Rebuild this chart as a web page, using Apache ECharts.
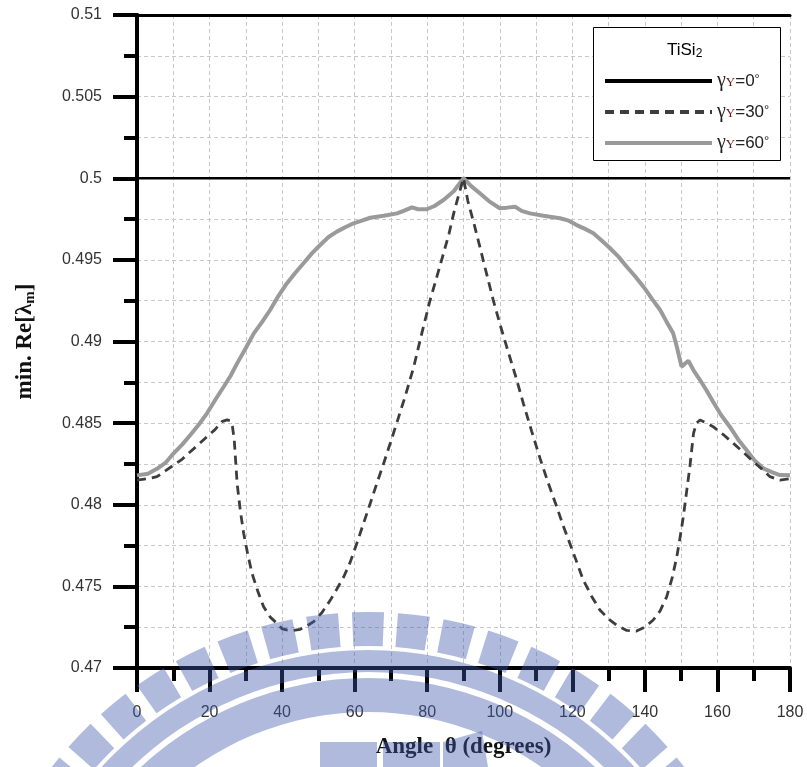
<!DOCTYPE html>
<html>
<head>
<meta charset="utf-8">
<script src="https://cdn.jsdelivr.net/npm/echarts@6/dist/echarts.min.js"></script>
<style>html,body{margin:0;padding:0;background:#fff}#c{width:807px;height:767px}</style>
</head>
<body>
<div id="c"></div>
<script>
// ---- data ----
const xTickLabels = ['0','20','40','60','80','100','120','140','160','180'];
const yTickLabels = ['0.47','0.475','0.48','0.485','0.49','0.495','0.5','0.505','0.51'];
const seriesNames = ['γY=0°','γY=30°','γY=60°'];

const g0X = [0, 180];
const g0Y = [0.5, 0.5];

const g30X = [0,3,5.5,8,10.1,12.5,14.7,17,19.3,21.5,23.4,24.8,25.7,26.3,26.8,27.6,28.5,29.4,30.5,31.7,33.3,34.9,36.8,38.6,40,41.3,43,45,47,48.7,51,53.3,55,57,58.8,60.6,62.5,64.3,66.1,68,70,71.7,74,76.3,78.5,80.8,82.7,84.5,86,87.3,88.7,90,91.2,92.8,94.5,96.3,98.2,100,101.9,104.2,106.5,108.8,111.1,113.4,115.7,117.5,119.3,121.2,123,125.3,127.6,130,132.2,135,137.7,140,142.3,144.2,146,147.5,148.8,149.7,150.6,151.5,152.4,153.4,154.2,155.2,157,158.8,161.6,164.4,167.2,169.9,172.2,174.5,177.2,180];
const g30Y = [0.48151,0.4816,0.48172,0.4821,0.48243,0.4828,0.48325,0.4837,0.48417,0.4846,0.48509,0.4852,0.48515,0.4848,0.4840,0.48131,0.4796,0.47825,0.4770,0.4758,0.4747,0.47375,0.4731,0.47273,0.4724,0.47233,0.4723,0.47237,0.4726,0.47284,0.4734,0.47416,0.4748,0.47559,0.4765,0.47764,0.4789,0.48009,0.4813,0.48254,0.4839,0.48508,0.4867,0.48846,0.4905,0.49254,0.4940,0.4954,0.4966,0.49785,0.4990,0.5000,0.4986,0.4973,0.49581,0.4942,0.49254,0.4911,0.48968,0.4880,0.48621,0.4845,0.48284,0.4813,0.47988,0.4787,0.47764,0.4765,0.47539,0.4744,0.47355,0.4730,0.47263,0.4723,0.47226,0.4725,0.47294,0.4735,0.47436,0.4755,0.47682,0.4780,0.47927,0.4808,0.48233,0.48437,0.4850,0.48519,0.4850,0.48478,0.4843,0.48376,0.4832,0.48264,0.4822,0.48172,0.48151,0.4816];

const g60X = [0,3,5.5,8,10.1,12.5,14.7,17,19.3,21.5,23.9,25.8,27.6,30,32.2,34.5,36.7,39,41.3,43.6,45.9,48.2,50.5,52.8,55.1,57.4,59.7,62,64.3,68,71.7,73.5,75.8,77.5,79.9,82,84.5,87.3,90,92.2,94.5,97,100,102,104.2,106,108.3,112,116.6,119,121.2,123.5,125.8,128,130.4,132.7,135,137.3,139.6,142,144.2,146,147.8,148.8,150.1,152,153.5,155.2,157,158.8,161,163.4,165.7,168,170.3,172.6,175,177.2,180];
const g60Y = [0.4818,0.4819,0.4822,0.4826,0.48315,0.4837,0.48427,0.4849,0.4856,0.4864,0.48723,0.4879,0.48866,0.4896,0.4905,0.4912,0.49193,0.4928,0.49356,0.4942,0.49479,0.4954,0.49591,0.4964,0.49673,0.4970,0.49724,0.4974,0.49758,0.4977,0.49785,0.4980,0.49822,0.4981,0.4981,0.4983,0.49867,0.4992,0.5000,0.4995,0.49908,0.4986,0.49816,0.4982,0.49826,0.4980,0.49785,0.4977,0.49755,0.4974,0.49713,0.4969,0.49663,0.4962,0.49571,0.4952,0.49458,0.4940,0.49336,0.4926,0.49193,0.4912,0.4905,0.48968,0.48846,0.48882,0.4882,0.48764,0.4870,0.48631,0.4855,0.48478,0.4840,0.48335,0.4827,0.48223,0.4820,0.48182,0.4818];

const zip = (xs, ys) => xs.map((x, i) => [x, ys[i]]);

// ---- watermark geometry ----
const wmColor = 'rgba(60,88,172,0.41)';
const wcx = 368, wcy = 1012;
const wm = [];
wm.push({type:'sector', z:100, silent:true, shape:{cx:wcx, cy:wcy, r0:300, r:334, startAngle:Math.PI, endAngle:2*Math.PI}, style:{fill:wmColor}});
wm.push({type:'sector', z:100, silent:true, shape:{cx:wcx, cy:wcy, r0:340, r:362, startAngle:Math.PI, endAngle:2*Math.PI}, style:{fill:wmColor}});
for (let k = -8; k <= 8; k++) {
  const c = -Math.PI/2 + k*6.6*Math.PI/180;
  const h = 2.3*Math.PI/180;
  wm.push({type:'sector', z:100, silent:true, shape:{cx:wcx, cy:wcy, r0:366, r:400, startAngle:c-h, endAngle:c+h}, style:{fill:wmColor}});
}
wm.push({type:'rect', z:100, silent:true, shape:{x:320, y:742, width:57, height:30}, style:{fill:wmColor}});
wm.push({type:'rect', z:100, silent:true, shape:{x:383, y:742, width:57, height:30}, style:{fill:wmColor}});
wm.push({type:'polygon', z:100, silent:true, shape:{points:[[443,742],[482,731],[488,767],[443,767]]}, style:{fill:wmColor}});

const labelRich = {
  g:{fontFamily:'Liberation Serif', fontSize:20, color:'#222', lineHeight:16},
  s:{fontFamily:'Liberation Serif', fontSize:13, color:'#6a1515', verticalAlign:'bottom', lineHeight:16, padding:[8,0,0,0]},
  n:{fontFamily:'Liberation Sans', fontSize:17, color:'#222', lineHeight:16},
  d:{fontFamily:'Liberation Sans', fontSize:13, color:'#222', verticalAlign:'top', lineHeight:16, padding:[0,0,8,0]}
};

const chart = echarts.init(document.getElementById('c'), null, {renderer:'canvas'});
chart.setOption({
  animation:false,
  backgroundColor:'#fff',
  grid:{left:137, right:17, top:15, bottom:99},
  xAxis:[{
    type:'value', min:0, max:180, interval:20,
    axisLine:{show:true, onZero:false, lineStyle:{color:'#000', width:4}},
    axisTick:{show:true, inside:false, length:24, lineStyle:{color:'#000', width:4}},
    minorTick:{show:true, splitNumber:2, length:13, lineStyle:{color:'#000', width:4}},
    axisLabel:{margin:37, fontFamily:'Liberation Sans', fontSize:16, color:'#333',
      formatter:(v)=>xTickLabels[Math.round(v/20)]},
    splitLine:{show:true, lineStyle:{color:'#c8c8c8', type:[4,3], width:1}},
    minorSplitLine:{show:true, lineStyle:{color:'#c8c8c8', type:[4,3], width:1}},
    name:'Angle  θ (degrees)', nameLocation:'middle', nameGap:68,
    nameTextStyle:{fontFamily:'Liberation Serif', fontWeight:'bold', fontSize:23, color:'#111'}
  },{
    type:'value', min:0, max:180, position:'top',
    axisLine:{show:true, lineStyle:{color:'#000', width:3}},
    axisTick:{show:false}, axisLabel:{show:false}, splitLine:{show:false}
  }],
  yAxis:[{
    type:'value', min:0.47, max:0.51, interval:0.005,
    axisLine:{show:true, onZero:false, lineStyle:{color:'#000', width:4}},
    axisTick:{show:true, inside:false, length:24, lineStyle:{color:'#000', width:4}},
    minorTick:{show:true, splitNumber:2, length:13, lineStyle:{color:'#000', width:4}},
    axisLabel:{margin:35, fontFamily:'Liberation Sans', fontSize:16, color:'#333',
      formatter:(v)=>yTickLabels[Math.round((v-0.47)/0.005)]},
    splitLine:{show:true, lineStyle:{color:'#c8c8c8', type:[4,3], width:1}},
    minorSplitLine:{show:true, lineStyle:{color:'#c8c8c8', type:[4,3], width:1}},
    name:'min. Re[λ{m|m}]', nameLocation:'middle', nameGap:99, nameRotate:90,
    nameTextStyle:{fontFamily:'Liberation Serif', fontWeight:'bold', fontSize:23, color:'#111',
      rich:{m:{fontFamily:'Liberation Serif', fontWeight:'bold', fontSize:15, color:'#111', verticalAlign:'bottom', padding:[10,0,0,0]}}}
  },{
    type:'value', min:0.47, max:0.51, position:'right',
    axisLine:{show:true, lineStyle:{color:'#000', width:4}},
    axisTick:{show:false}, axisLabel:{show:false}, splitLine:{show:false}
  }],
  legend:{
    orient:'vertical', left:603, top:68, padding:0, itemWidth:107, itemHeight:14, itemGap:5,
    data:seriesNames,
    itemStyle:{opacity:0},
    lineStyle:{width:4},
    formatter:(name)=>{
      const deg = name.replace('γY=','').replace('°','');
      return '{g|γ}{s|Y}{n|=' + deg + '}{d|°}';
    },
    textStyle:{rich:labelRich}, z:20
  },
  graphic:[
    {type:'rect', z:10, silent:true, shape:{x:593.5, y:27.5, width:187, height:133}, style:{fill:'#fff', stroke:'#000', lineWidth:1}},
    {type:'text', z:11, silent:true, left:667, top:40, style:{
      text:'{a|TiSi}{b|2}', rich:{a:{fontFamily:'Liberation Sans', fontSize:17, color:'#222', lineHeight:20}, b:{fontFamily:'Liberation Sans', fontSize:12, color:'#222', verticalAlign:'bottom', lineHeight:20, padding:[8,0,0,0]}}}}
  ].concat(wm),
  series:[
    {name:seriesNames[0], type:'line', data:zip(g0X, g0Y), symbol:'none', z:3,
      lineStyle:{color:'#000', width:2.5}, itemStyle:{color:'#000'}},
    {name:seriesNames[2], type:'line', data:zip(g60X, g60Y), symbol:'none', z:4,
      lineStyle:{color:'#9a9a9a', width:4}, itemStyle:{color:'#9a9a9a'}},
    {name:seriesNames[1], type:'line', data:zip(g30X, g30Y), symbol:'none', z:5,
      lineStyle:{color:'#3d3d3d', width:2.8, type:[9,6]}, itemStyle:{color:'#3d3d3d'}}
  ]
});
</script>
</body>
</html>
